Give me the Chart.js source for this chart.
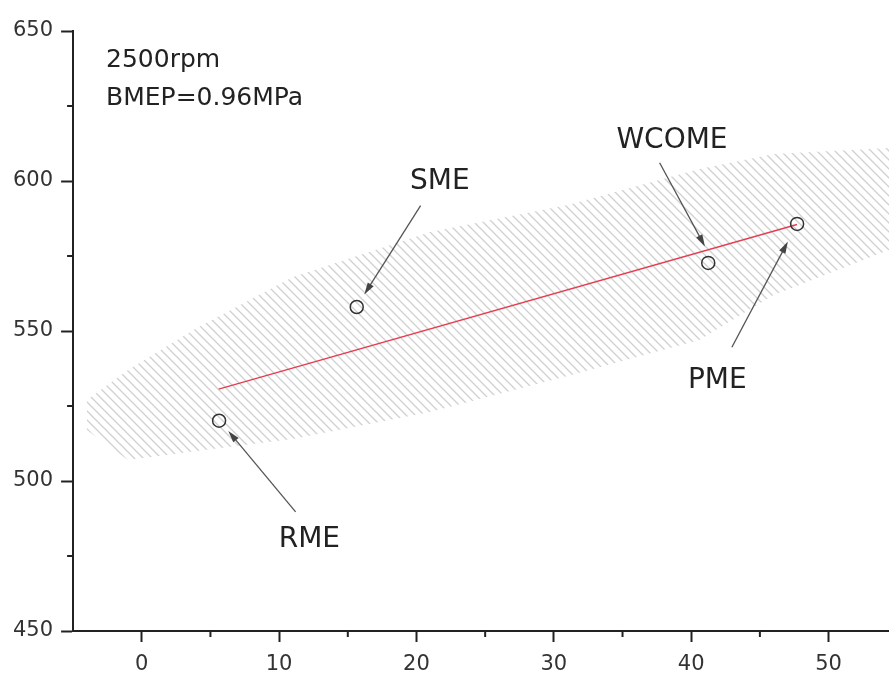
<!DOCTYPE html>
<html>
<head>
<meta charset="utf-8">
<script src="https://cdn.jsdelivr.net/npm/chart.js@4.4.1/dist/chart.umd.min.js"></script>
<style>
  html, body { margin: 0; padding: 0; background: #fff; overflow: hidden; }
</style>
</head>
<body>
<canvas id="myChart" width="897" height="687"></canvas>
<script>
// values
const engines = ["RME", "SME", "WCOME", "PME"];
const engineX = [5.63, 15.65, 41.24, 47.71];
const engineY = [520.1, 558.0, 572.7, 585.7];

// red trend line, two ends
const fitX = [5.6, 47.7];
const fitY = [530.6, 585.5];

// hatched band, top and bottom edges
const bandX = [-4, -1, 4, 11, 21, 31, 40.6, 46, 54.4];
const bandTop = [527, 537, 551, 568, 583, 592, 604, 609, 611];
const bandBottom = [517, 507, 510, 514, 523, 535, 547, 562, 577];

// axes
const xTicks = [0, 10, 20, 30, 40, 50];
const xMinor = [5, 15, 25, 35, 45];
const yTicks = [450, 500, 550, 600, 650];
const yMinor = [475, 525, 575, 625];

// labels next to the points and their arrows (data units)
const noteX = [12.2, 21.7, 38.6, 41.9];
const noteY = [478.1, 597.2, 611.1, 531.0];
const arrowFromX = [11.2, 20.3, 37.7, 42.96];
const arrowFromY = [489.7, 591.8, 606.1, 544.6];
const arrowToX = [6.3, 16.2, 41.0, 47.04];
const arrowToY = [516.7, 562.2, 578.2, 579.8];

const infoLines = ["2500rpm", "BMEP=0.96MPa"];
const infoX = -2.6;
const infoY = [638.0, 625.4];

const FONT = "'DejaVu Sans', sans-serif";

const ctx = document.getElementById("myChart");

// hatch pattern for the band
function makeHatch() {
  const c = document.createElement("canvas");
  const s = 9;
  c.width = s;
  c.height = s;
  const g = c.getContext("2d");
  g.strokeStyle = "rgba(150,150,150,0.45)";
  g.lineWidth = 1.3;
  g.beginPath();
  g.moveTo(0, 0);
  g.lineTo(s, s);
  g.moveTo(-2, s - 2);
  g.lineTo(2, s + 2);
  g.moveTo(s - 2, -2);
  g.lineTo(s + 2, 2);
  g.stroke();
  return ctx.getContext("2d").createPattern(c, "repeat");
}

// minor ticks, notes and arrows
const extras = {
  id: "extras",
  afterDraw(chart) {
    const c = chart.ctx;
    const x = chart.scales.x;
    const y = chart.scales.y;
    c.save();
    c.strokeStyle = "#222";
    c.lineWidth = 2;
    xMinor.forEach((v) => {
      const px = x.getPixelForValue(v);
      c.beginPath();
      c.moveTo(px, y.bottom);
      c.lineTo(px, y.bottom + 6);
      c.stroke();
    });
    yMinor.forEach((v) => {
      const py = y.getPixelForValue(v);
      c.beginPath();
      c.moveTo(x.left, py);
      c.lineTo(x.left - 6, py);
      c.stroke();
    });

    // arrows
    c.strokeStyle = "#555";
    c.fillStyle = "#444";
    c.lineWidth = 1.3;
    arrowFromX.forEach((v, i) => {
      const x1 = x.getPixelForValue(v);
      const y1 = y.getPixelForValue(arrowFromY[i]);
      const x2 = x.getPixelForValue(arrowToX[i]);
      const y2 = y.getPixelForValue(arrowToY[i]);
      const a = Math.atan2(y2 - y1, x2 - x1);
      c.beginPath();
      c.moveTo(x1, y1);
      c.lineTo(x2 - 8 * Math.cos(a), y2 - 8 * Math.sin(a));
      c.stroke();
      c.beginPath();
      c.moveTo(x2, y2);
      c.lineTo(x2 - 12 * Math.cos(a) + 3.5 * Math.sin(a), y2 - 12 * Math.sin(a) - 3.5 * Math.cos(a));
      c.lineTo(x2 - 12 * Math.cos(a) - 3.5 * Math.sin(a), y2 - 12 * Math.sin(a) + 3.5 * Math.cos(a));
      c.closePath();
      c.fill();
    });

    // text
    c.fillStyle = "#222";
    c.textBaseline = "alphabetic";
    c.font = "28px " + FONT;
    c.textAlign = "center";
    engines.forEach((name, i) => {
      c.fillText(name, x.getPixelForValue(noteX[i]), y.getPixelForValue(noteY[i]));
    });
    c.font = "25px " + FONT;
    c.textAlign = "left";
    infoLines.forEach((t, i) => {
      c.fillText(t, x.getPixelForValue(infoX), y.getPixelForValue(infoY[i]));
    });
    c.restore();
  },
};

new Chart(ctx, {
  type: "line",
  data: {
    datasets: [
      {
        label: "band top",
        data: bandX.map((v, i) => ({ x: v, y: bandTop[i] })),
        borderWidth: 0,
        pointRadius: 0,
        fill: false,
        order: 3,
      },
      {
        label: "band bottom",
        data: bandX.map((v, i) => ({ x: v, y: bandBottom[i] })),
        borderWidth: 0,
        pointRadius: 0,
        backgroundColor: makeHatch(),
        fill: "-1",
        order: 3,
      },
      {
        label: "fit",
        data: fitX.map((v, i) => ({ x: v, y: fitY[i] })),
        borderColor: "rgb(230,60,80)",
        borderWidth: 1.3,
        pointRadius: 0,
        order: 2,
      },
      {
        label: "engines",
        data: engineX.map((v, i) => ({ x: v, y: engineY[i] })),
        showLine: false,
        pointStyle: "circle",
        pointRadius: 6.5,
        borderColor: "#333",
        borderWidth: 1.5,
        backgroundColor: "rgba(255,255,255,0)",
        order: 1,
      },
    ],
  },
  options: {
    responsive: false,
    animation: false,
    layout: { padding: { left: 5, top: 31, right: 0, bottom: 0 } },
    plugins: {
      legend: { display: false },
      tooltip: { enabled: false },
    },
    scales: {
      x: {
        type: "linear",
        min: -5,
        max: 54.4,
        afterBuildTicks: (s) => {
          s.ticks = xTicks.map((v) => ({ value: v }));
        },
        ticks: {
          color: "#333",
          padding: 12,
          maxRotation: 0,
          autoSkip: false,
          font: { family: FONT, size: 21, lineHeight: 1 },
        },
        grid: { drawOnChartArea: false, tickLength: 11, tickWidth: 2, tickColor: "#222" },
        border: { color: "#222", width: 2 },
      },
      y: {
        min: 450,
        max: 650,
        afterBuildTicks: (s) => {
          s.ticks = yTicks.map((v) => ({ value: v }));
        },
        ticks: {
          color: "#333",
          padding: 8,
          font: { family: FONT, size: 21, lineHeight: 1 },
        },
        grid: { drawOnChartArea: false, tickLength: 12, tickWidth: 2, tickColor: "#222" },
        border: { color: "#222", width: 2 },
      },
    },
  },
  plugins: [extras],
});
</script>
</body>
</html>
